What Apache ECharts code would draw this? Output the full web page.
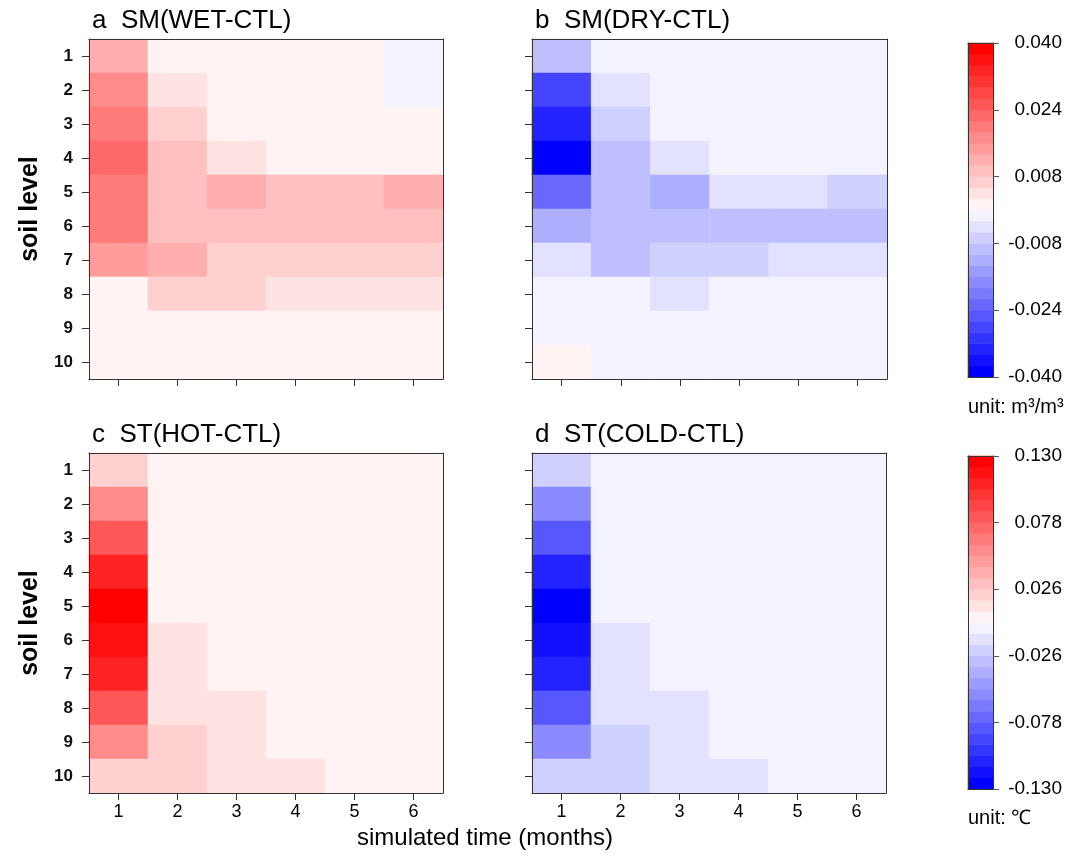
<!DOCTYPE html>
<html><head><meta charset="utf-8">
<script src="https://cdn.jsdelivr.net/npm/echarts@6/dist/echarts.min.js"></script>
<style>html,body{margin:0;padding:0;background:#fff}#c{width:1089px;height:856px}</style>
</head><body><div id="c"></div>
<script>
// ---------- data ----------
const months = ['1', '2', '3', '4', '5', '6'];
const levels = ['1', '2', '3', '4', '5', '6', '7', '8', '9', '10'];

// SM(WET-CTL), rows = soil level 1..10, cols = month 1..6 (m3/m3)
const smWet = [
  [0.0120, 0.0013, 0.0013, 0.0013, 0.0013, -0.0013],
  [0.0173, 0.0040, 0.0013, 0.0013, 0.0013, -0.0013],
  [0.0200, 0.0067, 0.0013, 0.0013, 0.0013, 0.0013],
  [0.0227, 0.0093, 0.0040, 0.0013, 0.0013, 0.0013],
  [0.0200, 0.0093, 0.0120, 0.0093, 0.0093, 0.0120],
  [0.0200, 0.0093, 0.0093, 0.0093, 0.0093, 0.0093],
  [0.0147, 0.0120, 0.0067, 0.0067, 0.0067, 0.0067],
  [0.0013, 0.0067, 0.0067, 0.0040, 0.0040, 0.0040],
  [0.0013, 0.0013, 0.0013, 0.0013, 0.0013, 0.0013],
  [0.0013, 0.0013, 0.0013, 0.0013, 0.0013, 0.0013]
];
// SM(DRY-CTL)
const smDry = [
  [-0.0093, -0.0013, -0.0013, -0.0013, -0.0013, -0.0013],
  [-0.0280, -0.0040, -0.0013, -0.0013, -0.0013, -0.0013],
  [-0.0333, -0.0067, -0.0013, -0.0013, -0.0013, -0.0013],
  [-0.0387, -0.0093, -0.0040, -0.0013, -0.0013, -0.0013],
  [-0.0227, -0.0093, -0.0120, -0.0040, -0.0040, -0.0067],
  [-0.0120, -0.0093, -0.0093, -0.0093, -0.0093, -0.0093],
  [-0.0040, -0.0093, -0.0067, -0.0067, -0.0040, -0.0040],
  [-0.0013, -0.0013, -0.0040, -0.0013, -0.0013, -0.0013],
  [-0.0013, -0.0013, -0.0013, -0.0013, -0.0013, -0.0013],
  [0.0013, -0.0013, -0.0013, -0.0013, -0.0013, -0.0013]
];
// ST(HOT-CTL) (degC)
const stHot = [
  [0.0217, 0.0043, 0.0043, 0.0043, 0.0043, 0.0043],
  [0.0563, 0.0043, 0.0043, 0.0043, 0.0043, 0.0043],
  [0.0823, 0.0043, 0.0043, 0.0043, 0.0043, 0.0043],
  [0.1083, 0.0043, 0.0043, 0.0043, 0.0043, 0.0043],
  [0.1257, 0.0043, 0.0043, 0.0043, 0.0043, 0.0043],
  [0.1170, 0.0130, 0.0043, 0.0043, 0.0043, 0.0043],
  [0.1083, 0.0130, 0.0043, 0.0043, 0.0043, 0.0043],
  [0.0823, 0.0130, 0.0130, 0.0043, 0.0043, 0.0043],
  [0.0563, 0.0217, 0.0130, 0.0043, 0.0043, 0.0043],
  [0.0217, 0.0217, 0.0130, 0.0130, 0.0043, 0.0043]
];
// ST(COLD-CTL)
const stCold = [
  [-0.0217, -0.0043, -0.0043, -0.0043, -0.0043, -0.0043],
  [-0.0563, -0.0043, -0.0043, -0.0043, -0.0043, -0.0043],
  [-0.0823, -0.0043, -0.0043, -0.0043, -0.0043, -0.0043],
  [-0.1083, -0.0043, -0.0043, -0.0043, -0.0043, -0.0043],
  [-0.1257, -0.0043, -0.0043, -0.0043, -0.0043, -0.0043],
  [-0.1170, -0.0130, -0.0043, -0.0043, -0.0043, -0.0043],
  [-0.1083, -0.0130, -0.0043, -0.0043, -0.0043, -0.0043],
  [-0.0823, -0.0130, -0.0130, -0.0043, -0.0043, -0.0043],
  [-0.0563, -0.0217, -0.0130, -0.0043, -0.0043, -0.0043],
  [-0.0217, -0.0217, -0.0130, -0.0130, -0.0043, -0.0043]
];

const panelTitles = ['a  SM(WET-CTL)', 'b  SM(DRY-CTL)', 'c  ST(HOT-CTL)', 'd  ST(COLD-CTL)'];
const smRange = [-0.040, 0.040];
const stRange = [-0.130, 0.130];
const smTickLabels = ['-0.040', '-0.024', '-0.008', '0.008', '0.024', '0.040'];
const stTickLabels = ['-0.130', '-0.078', '-0.026', '0.026', '0.078', '0.130'];
const nLevels = 30;
const unitLabels = ['unit: m\u00b3/m\u00b3', 'unit: \u2103'];
const xAxisName = 'simulated time (months)';
const yAxisName = 'soil level';

// ---------- layout / style ----------
const FONT = 'Liberation Sans, Arial, Helvetica, sans-serif';
const panelGrids = [
  { left: 89, top: 39, width: 354, height: 340 },
  { left: 532, top: 39, width: 355, height: 340 },
  { left: 89, top: 453, width: 354, height: 340 },
  { left: 532, top: 453, width: 354, height: 340 }
];
const cbGrids = [
  { left: 968, top: 43, width: 25, height: 334 },
  { left: 968, top: 456, width: 25, height: 333 }
];
const LINE = '#333';

function levelColor(k) { // k = 0..29, 0 = most negative
  const half = nLevels / 2;
  if (k < half) {
    const i = half - k;
    const g = Math.round(243 * (half - i) / (half - 1));
    return `rgb(${g},${g},255)`;
  }
  const i = k - half + 1;
  const g = Math.round(243 * (half - i) / (half - 1));
  return `rgb(255,${g},${g})`;
}
function makePieces(range) {
  const step = (range[1] - range[0]) / nLevels;
  const out = [];
  for (let k = 0; k < nLevels; k++) {
    out.push({ gte: range[0] + k * step, lt: range[0] + (k + 1) * step, color: levelColor(k) });
  }
  out[0].gte = -Infinity; out[nLevels - 1].lt = Infinity;
  return out;
}
function toCells(m) {
  const d = [];
  m.forEach((row, r) => row.forEach((v, c) => d.push([c, r, v])));
  return d;
}
function cbCells(range) {
  const step = (range[1] - range[0]) / nLevels;
  const d = [];
  for (let k = 0; k < nLevels; k++) d.push([0, k, range[0] + (k + 0.5) * step]);
  return d;
}

const panelData = [smWet, smDry, stHot, stCold];
const grid = [], xAxis = [], yAxis = [], series = [];
const AZ = 10;

panelGrids.forEach((g, p) => {
  grid.push(Object.assign({ containLabel: false }, g));
  const bottomRow = p >= 2, leftCol = p % 2 === 0;
  xAxis.push({
    type: 'category', data: months, gridIndex: p, position: 'bottom', z: AZ,
    axisLine: { show: true, lineStyle: { color: LINE, width: 1 } },
    axisTick: { show: true, alignWithLabel: true, length: 7, lineStyle: { color: LINE } },
    axisLabel: { show: bottomRow, fontSize: 18, color: '#000', margin: 10, fontFamily: FONT },
    splitLine: { show: false }
  });
  xAxis.push({
    type: 'category', data: months, gridIndex: p, position: 'top', z: AZ,
    axisLine: { show: true, lineStyle: { color: LINE, width: 1 } },
    axisTick: { show: false }, axisLabel: { show: false }, splitLine: { show: false }
  });
  yAxis.push({
    type: 'category', data: levels, inverse: true, gridIndex: p, position: 'left', z: AZ,
    name: leftCol ? yAxisName : '', nameLocation: 'middle', nameGap: 46,
    nameTextStyle: { fontSize: 25, fontWeight: 'bold', color: '#000', fontFamily: FONT },
    axisLine: { show: true, lineStyle: { color: LINE, width: 1 } },
    axisTick: { show: true, alignWithLabel: true, length: 7, lineStyle: { color: LINE } },
    axisLabel: { show: leftCol, fontSize: 17, fontWeight: 'bold', color: '#111', margin: 16, fontFamily: FONT },
    splitLine: { show: false }
  });
  yAxis.push({
    type: 'category', data: levels, inverse: true, gridIndex: p, position: 'right', z: AZ,
    axisLine: { show: true, lineStyle: { color: LINE, width: 1 } },
    axisTick: { show: false }, axisLabel: { show: false }, splitLine: { show: false }
  });
  series.push({
    type: 'heatmap', xAxisIndex: 2 * p, yAxisIndex: 2 * p, z: 1,
    data: toCells(panelData[p]),
    itemStyle: { borderWidth: 0 },
    emphasis: { disabled: true }, silent: true, progressive: 0
  });
});

const cbRanges = [smRange, stRange];
const cbTicks = [smTickLabels, stTickLabels];
const levelIdx = Array.from({ length: nLevels }, (_, k) => String(k));
cbGrids.forEach((g, c) => {
  const gi = 4 + c;
  grid.push(Object.assign({ containLabel: false }, g));
  xAxis.push({
    type: 'category', data: [''], gridIndex: gi, position: 'bottom', z: AZ,
    axisLine: { show: true, lineStyle: { color: LINE } }, axisTick: { show: false }, axisLabel: { show: false }
  });
  xAxis.push({
    type: 'category', data: [''], gridIndex: gi, position: 'top', z: AZ,
    axisLine: { show: true, lineStyle: { color: LINE } }, axisTick: { show: false }, axisLabel: { show: false }
  });
  yAxis.push({
    type: 'category', data: levelIdx, gridIndex: gi, position: 'left', z: AZ,
    axisLine: { show: true, lineStyle: { color: LINE } }, axisTick: { show: false }, axisLabel: { show: false }
  });
  const labels = cbTicks[c];
  yAxis.push({
    type: 'value', gridIndex: gi, position: 'right', z: AZ, min: 0, max: nLevels, interval: nLevels / (labels.length - 1),
    axisLine: { show: true, lineStyle: { color: LINE } },
    axisTick: { show: true, inside: false, length: 6, lineStyle: { color: '#555' } },
    axisLabel: {
      show: true, fontSize: 19, color: '#000', margin: 69, align: 'right', fontFamily: FONT,
      formatter: v => labels[Math.round(v / (nLevels / (labels.length - 1)))]
    },
    splitLine: { show: false }
  });
  series.push({
    type: 'heatmap', xAxisIndex: 8 + 2 * c, yAxisIndex: 8 + 2 * c, z: 1,
    data: cbCells(cbRanges[c]), itemStyle: { borderWidth: 0 },
    emphasis: { disabled: true }, silent: true
  });
});

const titleStyle = { fontSize: 26, fontWeight: 'normal', color: '#000', fontFamily: FONT };
const title = [
  { text: panelTitles[0], left: 92, top: 8, padding: 0, textStyle: titleStyle },
  { text: panelTitles[1], left: 535, top: 8, padding: 0, textStyle: titleStyle },
  { text: panelTitles[2], left: 92, top: 422, padding: 0, textStyle: titleStyle },
  { text: panelTitles[3], left: 535, top: 422, padding: 0, textStyle: titleStyle },
  { text: xAxisName, left: 485, top: 826, padding: 0, textAlign: 'center',
    textStyle: { fontSize: 24, fontWeight: 'normal', color: '#000', fontFamily: FONT } },
  { text: unitLabels[0], left: 968, top: 397, padding: 0,
    textStyle: { fontSize: 20, fontWeight: 'normal', color: '#000', fontFamily: FONT } },
  { text: unitLabels[1], left: 968, top: 808, padding: 0,
    textStyle: { fontSize: 20, fontWeight: 'normal', color: '#000', fontFamily: FONT } }
];

const chart = echarts.init(document.getElementById('c'), null, { renderer: 'canvas' });
chart.setOption({
  animation: false,
  backgroundColor: '#fff',
  textStyle: { fontFamily: FONT },
  title, grid, xAxis, yAxis, series,
  visualMap: [
    { type: 'piecewise', show: false, seriesIndex: [0, 1, 4], pieces: makePieces(smRange) },
    { type: 'piecewise', show: false, seriesIndex: [2, 3, 5], pieces: makePieces(stRange) }
  ]
});
</script></body></html>
